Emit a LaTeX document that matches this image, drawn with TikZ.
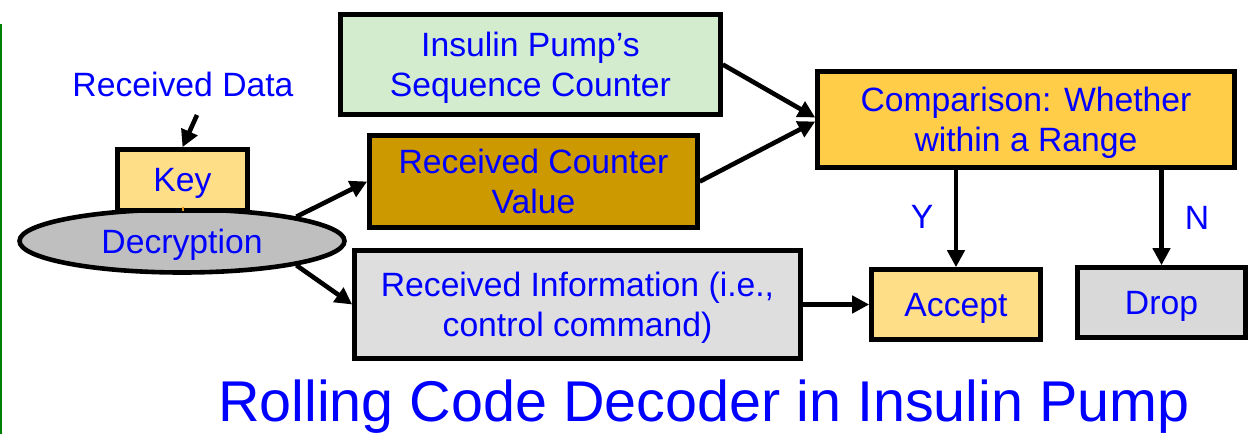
\documentclass[tikz,border=0pt]{standalone}
\usepackage{fontspec}
\setmainfont{Liberation Sans}
\usetikzlibrary{arrows.meta,shapes.geometric}
\definecolor{txtblue}{RGB}{0,0,255}
\definecolor{seqgreen}{RGB}{211,236,206}
\definecolor{cntbrown}{RGB}{204,153,0}
\definecolor{cmpyellow}{RGB}{255,205,72}
\definecolor{keyyellow}{RGB}{255,222,136}
\definecolor{dropgray}{RGB}{217,217,217}
\definecolor{infogray}{RGB}{222,222,222}
\definecolor{decgray}{RGB}{191,191,191}
\definecolor{sidegreen}{RGB}{0,128,0}
\definecolor{tickorange}{RGB}{230,150,20}
\begin{document}
\begin{tikzpicture}[x=1pt,y=-1pt,
  txt/.style={text=txtblue,font=\fontsize{33.7pt}{40.5pt}\selectfont,align=center,text depth=0pt},
  box/.style={txt,draw=black,line width=4.6pt,inner sep=0pt,rectangle},
  conn/.style={line width=4.6pt,-{Triangle[length=17pt,width=17pt]}},
]
\useasboundingbox (0,0) rectangle (1251,434);
% side line
\draw[sidegreen,line width=2pt] (1,24) -- (1,434);
% nodes
\node[box,fill=seqgreen,minimum width=380pt,minimum height=100pt] (seq) at (530.5,64.5) {Insulin Pump’s\\Sequence Counter};
\node[box,fill=cntbrown,minimum width=328pt,minimum height=92pt] (cnt) at (533.5,181.5) {Received Counter\\Value};
\node[box,fill=infogray,minimum width=446pt,minimum height=108pt] (info) at (577.5,304.5) {Received Information (i.e.,\\control command)};
\node[box,fill=cmpyellow,minimum width=417pt,minimum height=96pt] (cmp) at (1026,119.5) {Comparison: Whether\\within a Range};
\node[box,fill=keyyellow,minimum width=169pt,minimum height=70pt] (acc) at (956,304.5) {Accept};
\node[box,fill=dropgray,minimum width=168pt,minimum height=70pt] (drop) at (1161.5,302.5) {Drop};
\node[txt,ellipse,draw=black,line width=4.6pt,fill=decgray,inner sep=0pt,minimum width=325pt,minimum height=63pt] (dec) at (182,241) {Decryption};
\node[box,fill=keyyellow,minimum width=130pt,minimum height=61pt] (key) at (182.5,180) {Key};
\draw[tickorange,line width=1.5pt] (key.south) ++(0.5,-6) -- ++(0,4);
\node[txt] (rd) at (183,84) {Received Data};
\node[txt] (ylab) at (922,217) {Y};
\node[txt] (nlab) at (1197,218) {N};
\node[text=txtblue,font=\fontsize{57.5pt}{60pt}\selectfont,anchor=base] (title) at (704,421) {Rolling Code Decoder in Insulin Pump};
\coordinate (rdin) at (197,115);
% connectors
\draw[conn] (rdin) -- (key.north);
\draw[conn] (dec.12) -- (cnt.west);
\draw[conn] (dec.-12) -- (info.west);
\draw[conn] (seq.east) -- ([yshift=2pt]cmp.west);
\draw[conn] (cnt.east) -- ([yshift=-2pt]cmp.west);
\draw[conn] (info.east) -- (acc.west);
\draw[conn] (cmp.south -| acc.north) -- (acc.north);
\draw[conn] (cmp.south -| drop.north) -- (drop.north);
\end{tikzpicture}
\end{document}
